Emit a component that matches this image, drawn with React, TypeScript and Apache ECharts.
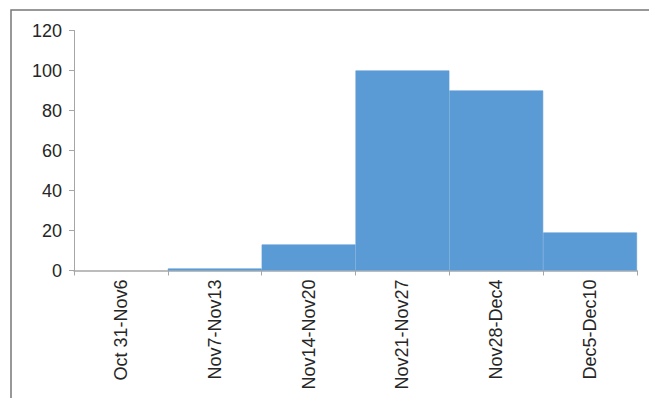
import React, { useEffect, useRef } from "react";
import * as echarts from "echarts";

const categories = ["Oct 31-Nov6", "Nov7-Nov13", "Nov14-Nov20", "Nov21-Nov27", "Nov28-Dec4", "Dec5-Dec10"];
const values = [0, 1, 13, 100, 90, 19];
const yTicks = [0, 20, 40, 60, 80, 100, 120];

export default function App() {
  const ref = useRef<HTMLDivElement>(null);
  useEffect(() => {
    document.body.style.margin = "0";
    const chart = echarts.init(ref.current!, null, { renderer: "svg" });
    chart.setOption({
      animation: false,
      backgroundColor: "#ffffff",
      textStyle: { fontFamily: "Liberation Sans, Arial, sans-serif" },
      graphic: [
        {
          type: "rect",
          shape: { x: 11, y: 10, width: 700, height: 500 },
          style: { fill: "none", stroke: "#777777", lineWidth: 1.5 },
          silent: true,
        },
      ],
      grid: { left: 74, top: 30.5, right: 12, bottom: 127.5, containLabel: false },
      xAxis: {
        type: "category",
        data: categories,
        boundaryGap: true,
        axisLine: { show: true, lineStyle: { color: "#a6a6a6", width: 1.5 } },
        axisTick: { show: true, alignWithLabel: false, length: 5, lineStyle: { color: "#a6a6a6" } },
        axisLabel: {
          rotate: 90,
          interval: 0,
          color: "#262626",
          fontSize: 18,
          margin: 9,
          fontFamily: "Liberation Sans, Arial, sans-serif",
        },
        splitLine: { show: false },
      },
      yAxis: {
        type: "value",
        min: yTicks[0],
        max: yTicks[yTicks.length - 1],
        interval: 20,
        axisLine: { show: true, lineStyle: { color: "#a6a6a6", width: 1 } },
        axisTick: { show: true, length: 5, lineStyle: { color: "#a6a6a6" } },
        axisLabel: {
          color: "#262626",
          fontSize: 18,
          margin: 12,
          fontFamily: "Liberation Sans, Arial, sans-serif",
        },
        splitLine: { show: false },
      },
      series: [
        {
          type: "bar",
          data: values.map((v) => (v === 0 ? { value: v, itemStyle: { borderWidth: 0 } } : v)),
          barCategoryGap: "0%",
          itemStyle: { color: "#5b9bd5", borderColor: "#5b9bd5", borderWidth: 0.6 },
        },
      ],
    });
    return () => chart.dispose();
  }, []);
  return <div ref={ref} style={{ position: "fixed", left: 0, top: 0, width: 649, height: 398 }} />;
}
